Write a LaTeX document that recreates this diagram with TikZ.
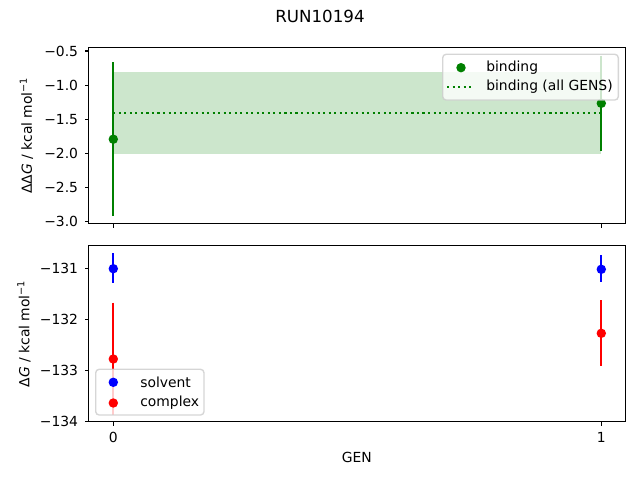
\documentclass[tikz,border=0pt]{standalone}
\usepackage{fontspec}
\setmainfont{DejaVu Sans}
\definecolor{mplgreen}{HTML}{008000}
\definecolor{mplblue}{HTML}{0000FF}
\definecolor{mplred}{HTML}{FF0000}
\definecolor{bandgreen}{HTML}{CCE6CC}
\definecolor{legframe}{HTML}{CCCCCC}
\begin{document}
\begin{tikzpicture}[x=0.72pt,y=-0.72pt,
  axisframe/.style={line width=0.8pt,draw=black},
  tickmark/.style={line width=0.8pt},
  ylab/.style={font=\fontsize{10}{12}\selectfont,inner sep=0pt,anchor=east},
  xlab/.style={font=\fontsize{10}{12}\selectfont,inner sep=0pt},
  errbar/.style={line width=1.5pt},
  dotmark/.style={circle,inner sep=0pt,minimum size=6.8pt},
  legtext/.style={font=\fontsize{10}{12}\selectfont,inner sep=0pt,anchor=west},
  legbox/.style={draw=legframe,fill=white,fill opacity=0.8,draw opacity=0.8,line width=1pt,rounded corners=2.5pt},
  dottedline/.style={line width=1.5pt,dash pattern=on 1.5pt off 2.475pt}
]
\useasboundingbox (0,0) rectangle (640,480);

% title
\node[font=\fontsize{12}{14}\selectfont,inner sep=0pt] (title) at (320,16.7) {RUN10194};

% ===== top axes =====
\fill[bandgreen] (113.3,72.3) rectangle (601.3,154.3);
\draw[mplgreen,dottedline] (113.3,112.7) -- (601.3,112.7);
\coordinate (t0a) at (113.3,62); \coordinate (t0b) at (113.3,215.7);
\coordinate (t1a) at (601.3,55.9); \coordinate (t1b) at (601.3,150.7);
\draw[mplgreen,errbar] (t0a) -- (t0b);
\draw[mplgreen,errbar] (t1a) -- (t1b);
\node[dotmark,fill=mplgreen] (bp0) at (113.3,139.2) {};
\node[dotmark,fill=mplgreen] (bp1) at (601.3,103.3) {};

% legend top
\draw[legbox] (442.7,54.3) rectangle (618.3,100);
\node[dotmark,fill=mplgreen] (lg1) at (461,67.7) {};
\node[legtext] (lgt1) at (486,67.7) {binding};
\coordinate (lga) at (447,86.7); \coordinate (lgb) at (474,86.7);
\draw[mplgreen,dottedline] (lga) -- (lgb);
\node[legtext] (lgt2) at (486,86.7) {binding (all GENS)};

\draw[axisframe] (88.5,47.5) rectangle (625.5,223.5);
\foreach \v/\yy [count=\i] in {\char"2212 0.5/51,\char"2212 1.0/85.1,\char"2212 1.5/119.3,\char"2212 2.0/153.5,\char"2212 2.5/187.6,\char"2212 3.0/221.7}{
  \draw[tickmark] (88.5,\yy) -- (84.5,\yy);
  \node[ylab] (ta\i) at (78.3,\yy) {\v};
}
\foreach \xx in {113.3,601.3}{
  \draw[tickmark] (\xx,223.5) -- (\xx,227.5);
}
\node[rotate=90,font=\fontsize{10}{12}\selectfont,inner sep=0pt] (ylabtop) at (26.5,135.5) {ΔΔ\textit{G} / kcal mol\textsuperscript{\char"2212 1}};

% ===== bottom axes =====
\coordinate (s0a) at (113.3,253.3); \coordinate (s0b) at (113.3,282.7);
\coordinate (s1a) at (601.3,255); \coordinate (s1b) at (601.3,281.7);
\coordinate (c0a) at (113.3,302.7); \coordinate (c0b) at (113.3,415);
\coordinate (c1a) at (601.3,300); \coordinate (c1b) at (601.3,365.7);
\draw[mplblue,errbar] (s0a) -- (s0b);
\draw[mplblue,errbar] (s1a) -- (s1b);
\draw[mplred,errbar] (c0a) -- (c0b);
\draw[mplred,errbar] (c1a) -- (c1b);
\node[dotmark,fill=mplblue] (sp0) at (113.3,268.7) {};
\node[dotmark,fill=mplblue] (sp1) at (601.3,269.3) {};
\node[dotmark,fill=mplred] (cp0) at (113.3,359) {};
\node[dotmark,fill=mplred] (cp1) at (601.3,333.3) {};

% legend bottom
\draw[legbox] (95.7,369.3) rectangle (204,415);
\node[dotmark,fill=mplblue] (lb1) at (113.3,382.3) {};
\node[legtext] (lbt1) at (140,382.3) {solvent};
\node[dotmark,fill=mplred] (lb2) at (113.3,403) {};
\node[legtext] (lbt2) at (140,403) {complex};

\draw[axisframe] (88.5,245.5) rectangle (625.5,421.5);
\foreach \v/\yy [count=\i] in {\char"2212 131/268.7,\char"2212 132/319.8,\char"2212 133/370.9,\char"2212 134/421.5}{
  \draw[tickmark] (88.5,\yy) -- (84.5,\yy);
  \node[ylab] (tb\i) at (78.3,\yy) {\v};
}
\foreach \xx/\lab in {113.3/0,601.3/1}{
  \draw[tickmark] (\xx,421.5) -- (\xx,425.5);
  \node[xlab] at (\xx,437.3) {\lab};
}
\node[rotate=90,font=\fontsize{10}{12}\selectfont,inner sep=0pt] (ylabbot) at (24,333.7) {Δ\textit{G} / kcal mol\textsuperscript{\char"2212 1}};
\node[xlab] (xlabel) at (356.8,457.3) {GEN};
\end{tikzpicture}
\end{document}
